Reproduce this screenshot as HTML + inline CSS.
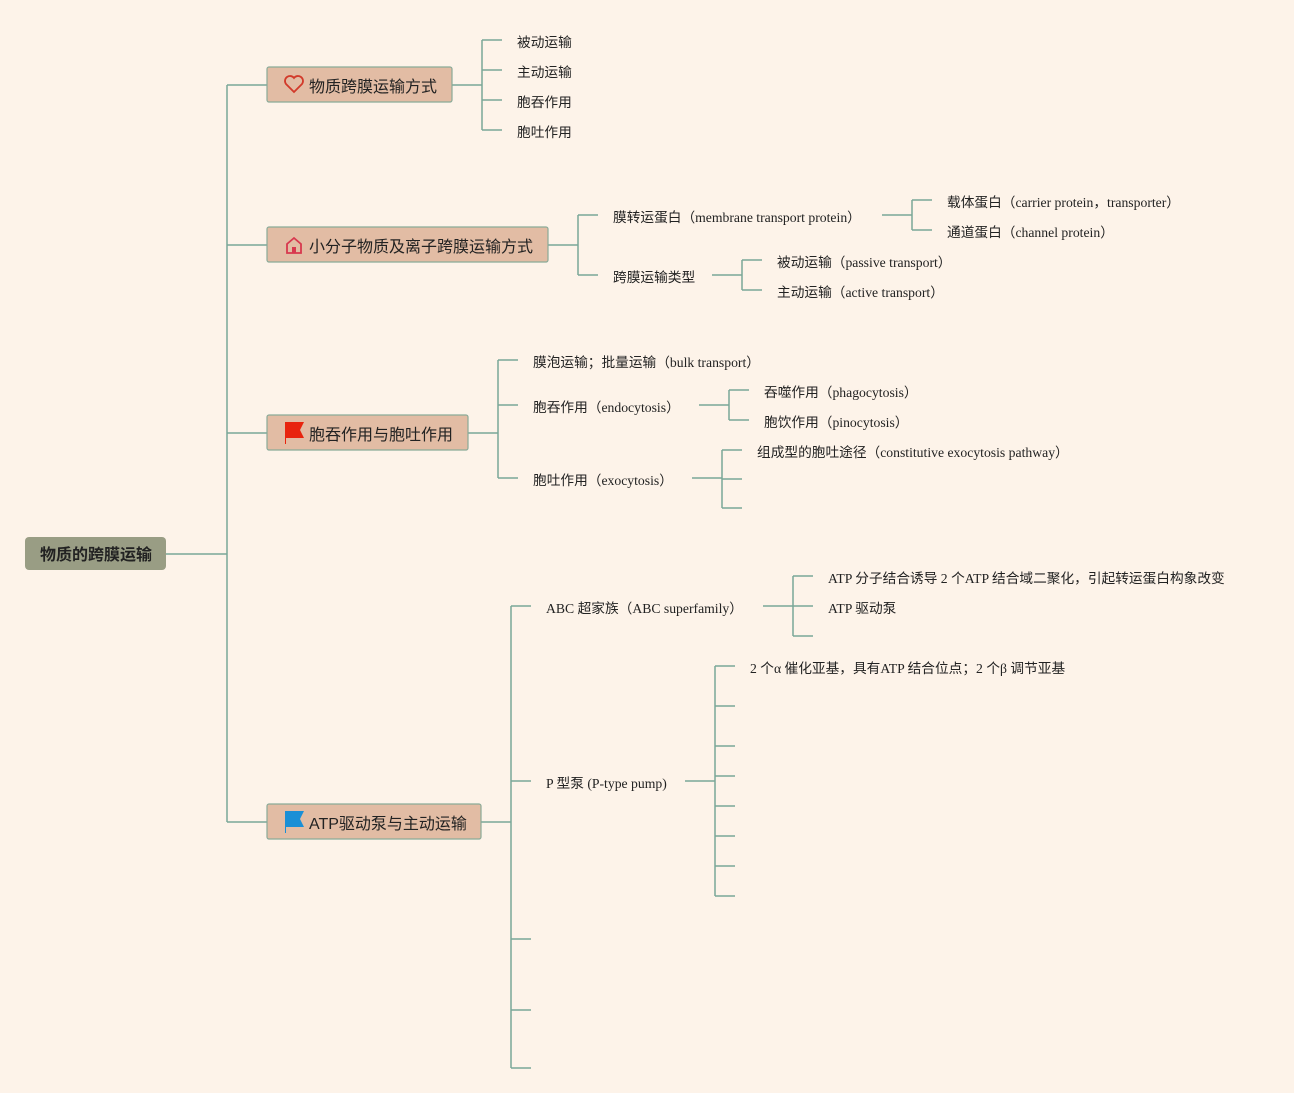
<!DOCTYPE html>
<html><head><meta charset="utf-8"><style>
html,body{margin:0;padding:0;background:#fdf3e9;}
svg{display:block}
.l{font-family:"Liberation Serif","Noto Sans CJK SC",serif;font-size:13.7px;fill:#222;dominant-baseline:central}
.b{font-family:"Liberation Sans","Noto Sans CJK SC",sans-serif;font-size:16px;fill:#222;dominant-baseline:central}
</style></head><body>
<svg width="1294" height="1093" viewBox="0 0 1294 1093" xmlns="http://www.w3.org/2000/svg">
<rect width="1294" height="1093" fill="#fdf3e9"/>
<g fill="none" stroke="#7aa898" stroke-width="1.5">
<path d="M166 554H227M227 85V822M227 85H267M227 245H267M227 433H267M227 822H267"/>
<path d="M452 85H482M482 40V130M482 40H502M482 70H502M482 100H502M482 130H502"/>
<path d="M548 245H578M578 215V275M578 215H598M578 275H598"/>
<path d="M882 215H912M912 200V230M912 200H932M912 230H932"/>
<path d="M712 275H742M742 260V290M742 260H762M742 290H762"/>
<path d="M468 433H498M498 360V478M498 360H518M498 405H518M498 478H518"/>
<path d="M699 405H729M729 390V420M729 390H749M729 420H749"/>
<path d="M692 478H722M722 450V508M722 450H742M722 479H742M722 508H742"/>
<path d="M481 822H511M511 606V1068M511 606H531M511 781H531M511 939H531M511 1010H531M511 1068H531"/>
<path d="M763 606H793M793 576V636M793 576H813M793 606H813M793 636H813"/>
<path d="M685 781H715M715 666V896M715 666H735M715 706H735M715 746H735M715 776H735M715 806H735M715 836H735M715 866H735M715 896H735"/>
</g>
<rect x="25" y="537" width="141" height="33" rx="4" fill="#999d84"/>
<g transform="translate(0,1.5)">
<text x="96" y="554" text-anchor="middle" class="b" style="font-weight:bold">物质的跨膜运输</text>
</g>
<g fill="#e2bca4" stroke="#8aaa98" stroke-width="1.2">
<rect x="267" y="67" width="185" height="35" rx="2"/>
<rect x="267" y="227" width="281" height="35" rx="2"/>
<rect x="267" y="415" width="201" height="35" rx="2"/>
<rect x="267" y="804" width="214" height="35" rx="2"/>
</g>
<path d="M294 92L286 84A4.5 4.5 0 0 1 294 78A4.5 4.5 0 0 1 302 84Z" fill="none" stroke="#d23a2a" stroke-width="1.8"/>
<path d="M287 253V244L294 238L301 244V253Z" fill="none" stroke="#d8384e" stroke-width="1.8"/><rect x="292" y="247" width="4" height="6" fill="#d8384e"/>
<path d="M285 422H304L300 430L304 438H286V444H285Z" fill="#e8240e"/>
<path d="M285 811H304L300 819L304 827H286V833H285Z" fill="#1a8fd6"/>
<g transform="translate(0,1.5)">
<text x="309" y="86" class="b">物质跨膜运输方式</text>
<text x="309" y="246" class="b">小分子物质及离子跨膜运输方式</text>
<text x="309" y="434" class="b">胞吞作用与胞吐作用</text>
<text x="309" y="823" class="b">ATP驱动泵与主动运输</text>
<text x="517" y="41" class="l">被动运输</text>
<text x="517" y="71" class="l">主动运输</text>
<text x="517" y="101" class="l">胞吞作用</text>
<text x="517" y="131" class="l">胞吐作用</text>
<text x="613" y="216" class="l">膜转运蛋白（membrane transport protein）</text>
<text x="613" y="276" class="l">跨膜运输类型</text>
<text x="947" y="201" class="l">载体蛋白（carrier protein，transporter）</text>
<text x="947" y="231" class="l">通道蛋白（channel protein）</text>
<text x="777" y="261" class="l">被动运输（passive transport）</text>
<text x="777" y="291" class="l">主动运输（active transport）</text>
<text x="533" y="361" class="l">膜泡运输；批量运输（bulk transport）</text>
<text x="533" y="406" class="l">胞吞作用（endocytosis）</text>
<text x="533" y="479" class="l">胞吐作用（exocytosis）</text>
<text x="764" y="391" class="l">吞噬作用（phagocytosis）</text>
<text x="764" y="421" class="l">胞饮作用（pinocytosis）</text>
<text x="757" y="451" class="l">组成型的胞吐途径（constitutive exocytosis pathway）</text>
<text x="546" y="607" class="l">ABC 超家族（ABC superfamily）</text>
<text x="546" y="782" class="l">P 型泵 (P-type pump)</text>
<text x="828" y="577" class="l">ATP 分子结合诱导 2 个ATP 结合域二聚化，引起转运蛋白构象改变</text>
<text x="828" y="607" class="l">ATP 驱动泵</text>
<text x="750" y="667" class="l">2 个α 催化亚基，具有ATP 结合位点；2 个β 调节亚基</text>
</g>
</svg>
</body></html>
